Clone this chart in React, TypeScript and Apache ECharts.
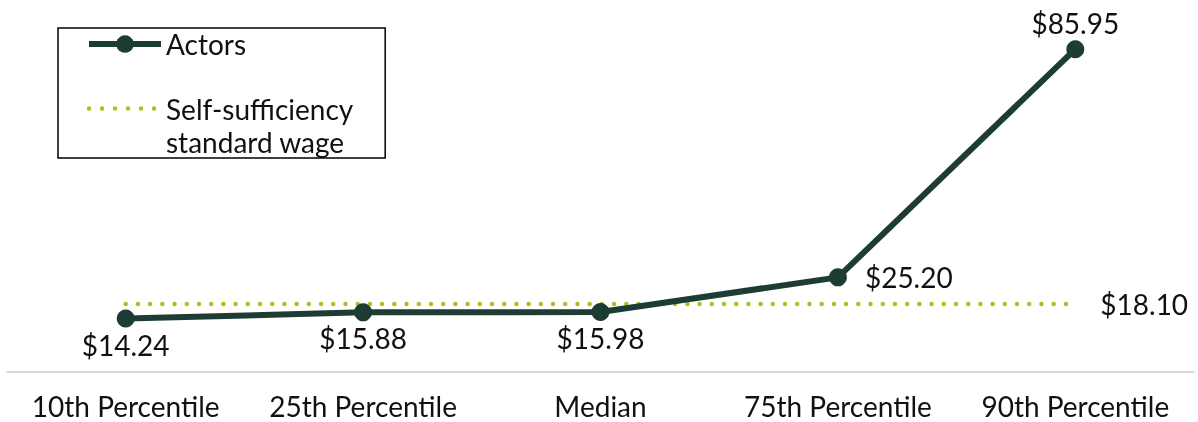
import React, { useEffect, useRef } from "react";
import * as echarts from "echarts";

const categories = ["10th Percentile", "25th Percentile", "Median", "75th Percentile", "90th Percentile"];
const actorsWages = [14.24, 15.88, 15.98, 25.2, 85.95];
const selfSufficiency = [18.1, 18.1, 18.1, 18.1, 18.1];
const actorLabelPositions = ["bottom", "bottom", "bottom", "right", "top"];

const FONT = "Lato";
const FS = 28;
const SELF_NAME = "Self-sufficiency\nstandard wage";

export default function App() {
  const ref = useRef<HTMLDivElement>(null);
  useEffect(() => {
    if (!ref.current) return;
    const chart = echarts.init(ref.current, null, { renderer: "svg" });
    chart.setOption({
      animation: false,
      textStyle: { fontFamily: FONT },
      grid: { left: 7, right: 4, top: 34, bottom: 50, containLabel: false },
      legend: {
        left: 58,
        top: 28,
        orient: "vertical",
        borderColor: "#000",
        borderWidth: 1.5,
        borderRadius: 0,
        padding: [1, 32, 0, 28],
        itemWidth: 72,
        itemHeight: 22,
        itemGap: 0,
        formatter: (name: string) => (name === SELF_NAME ? "\u00a0\n" + name : name),
        textStyle: { fontSize: FS, color: "#111", fontFamily: FONT, lineHeight: 33 },
        data: [
          { name: "Actors", lineStyle: { width: 6 }, textStyle: { lineHeight: 30 } },
          {
            name: SELF_NAME,
            itemStyle: { opacity: 0 },
            lineStyle: { width: 4.5, type: [0.01, 13], cap: "round", color: "#a9c11d" },
          },
        ],
      },
      xAxis: {
        type: "category",
        data: categories,
        boundaryGap: true,
        axisTick: { show: false },
        axisLine: { lineStyle: { color: "#d9d9d9", width: 2 } },
        axisLabel: { interval: 0, fontSize: FS, color: "#111", margin: 21, lineHeight: 26, fontFamily: FONT },
      },
      yAxis: { type: "value", min: 0, max: 90, show: false, splitLine: { show: false } },
      series: [
        {
          name: SELF_NAME,
          type: "line",
          data: selfSufficiency,
          symbol: "none",
          z: 1,
          lineStyle: { color: "#a9c11d", width: 4.5, type: [0.01, 12.2], cap: "round" },
          itemStyle: { color: "#a9c11d" },
          endLabel: {
            show: true,
            formatter: (p: any) => "$" + Number(p.value).toFixed(2),
            fontSize: FS,
            lineHeight: 28,
            color: "#111",
            distance: 25,
            fontFamily: FONT,
          },
        },
        {
          name: "Actors",
          type: "line",
          z: 2,
          data: actorsWages.map((v, i) => ({
            value: v,
            label: {
              position: actorLabelPositions[i],
              distance: actorLabelPositions[i] === "right" ? 18 : 3,
            },
          })),
          symbol: "circle",
          symbolSize: 18,
          lineStyle: { color: "#1d3c34", width: 6 },
          itemStyle: { color: "#1d3c34" },
          label: {
            show: true,
            formatter: (p: any) => "$" + Number(p.value).toFixed(2),
            fontSize: FS,
            lineHeight: 28,
            color: "#111",
            distance: 3,
            fontFamily: FONT,
          },
        },
      ],
    });
    return () => chart.dispose();
  }, []);
  return <div ref={ref} style={{ position: "fixed", left: 0, top: 0, width: 1198, height: 422 }} />;
}
